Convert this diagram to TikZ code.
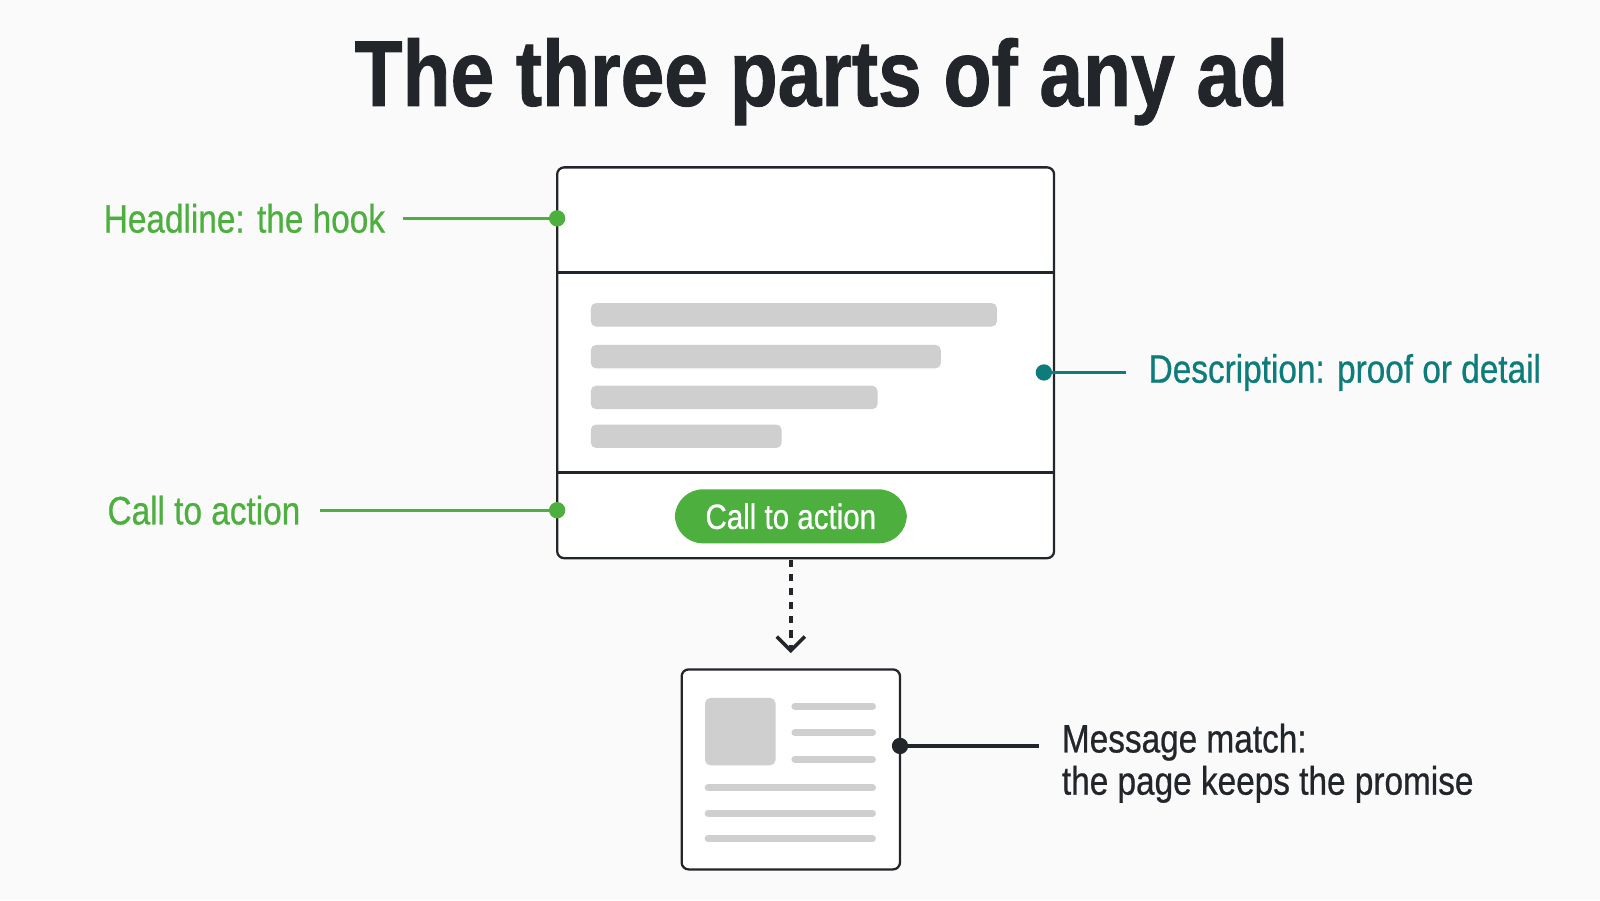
\documentclass[tikz,border=0pt]{standalone}
\usepackage{fontspec}
\setmainfont{Liberation Sans}[FakeStretch=0.84]
\usetikzlibrary{positioning,arrows.meta}
\definecolor{adgreen}{HTML}{4CAF3E}
\definecolor{adteal}{HTML}{0E7C7B}
\definecolor{addark}{HTML}{22262A}
\definecolor{adgray}{HTML}{CFCFCF}
\tikzset{
  frame/.style={draw=addark, line width=0.65pt, rounded corners=2pt, fill=white},
  bar/.style={fill=adgray, rounded corners=1.5pt},
  thin bar/.style={draw=adgray, line width=2pt, line cap=round},
  lead/.style={line width=0.9pt},
  lbl/.style={font=\fontsize{11.3}{13}\selectfont\addfontfeature{FakeBold=0.6}, inner sep=0pt},
}
\begin{document}
\begin{tikzpicture}[x=0.010204cm,y=-0.010204cm]
\useasboundingbox[fill=white!98!black] (0,0) rectangle (1568,882);
\node[font=\fontsize{26.6}{31}\selectfont\bfseries\addfontfeature{FakeBold=1}, text=addark] (title) at (805,80) {The three parts of any ad};

% the ad
\draw[frame] (546,164) rectangle (1033,547);
\draw[addark, line width=0.65pt] (546,267) -- (1033,267) (546,463) -- (1033,463);
\foreach \y/\r in {297/977, 338/922, 378/860, 416/766}
  \fill[bar] (579,\y) rectangle (\r,\y+23);
\node[fill=adgreen, text=white, rounded corners=8pt, minimum width=2.32cm, minimum height=0.54cm,
      font=\fontsize{10}{12}\selectfont\addfontfeature{FakeBold=0.6}, inner sep=0pt]
      (cta) at (775,506) {Call to action};

% labels
\coordinate (hd) at (546,214);
\coordinate (ds) at (1023,365);
\coordinate (cd) at (546,500);
\node[lbl, text=adgreen, anchor=east] (head) at (378,214) {Headline: the hook};
\node[lbl, text=adteal, anchor=west] (desc) at (1125,365) {Description: proof or detail};
\node[lbl, text=adgreen, anchor=east] (call) at (295,500) {Call to action};
\draw[lead, adgreen] ([xshift=0.17cm]head.east) -- (hd);
\fill[adgreen] (hd) circle (8);
\draw[lead, adteal] ([xshift=-0.22cm]desc.west) -- (ds);
\fill[adteal] (ds) circle (8);
\draw[lead, adgreen] ([xshift=0.19cm]call.east) -- (cd);
\fill[adgreen] (cd) circle (8);

% landing page
\coordinate (top) at (775,549);
\coordinate (land) at (775,640);
\draw[addark, line width=1pt, dash pattern=on 2pt off 2pt, -{Straight Barb[length=4pt,width=8pt]}] (top) -- (land);
\draw[frame] (668,656) rectangle (882,852);
\fill[adgray, rounded corners=1.5pt] (691,684) rectangle (760,750);
\foreach \y in {692,718,744} \draw[thin bar] (779,\y) -- (855,\y);
\foreach \y in {772,797,822} \draw[thin bar] (694,\y) -- (855,\y);
\coordinate (ld) at (882,731);
\node[lbl, text=addark, anchor=west, align=left] (match) at (1040,748) {Message match:\\[-1pt]the page keeps the promise};
\draw[lead, addark] (ld) -- (1018,731);
\fill[addark] (ld) circle (8);
\end{tikzpicture}
\end{document}
